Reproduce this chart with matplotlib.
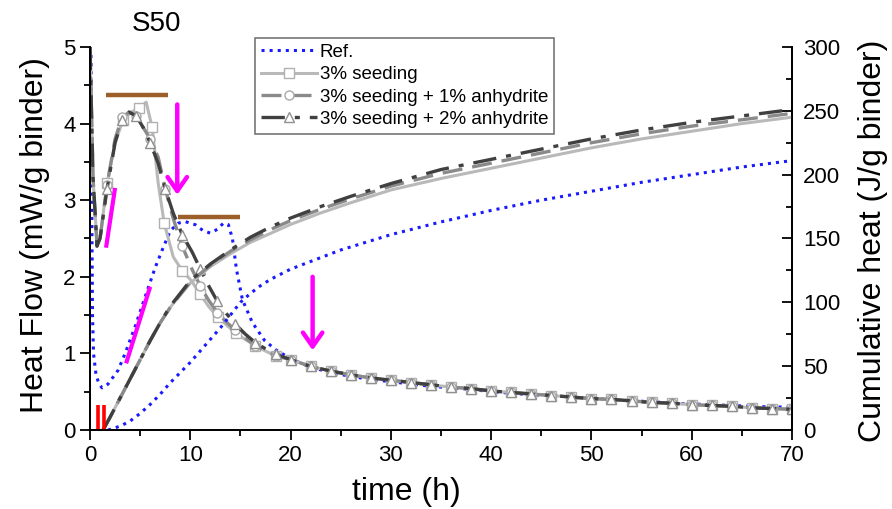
import matplotlib
matplotlib.use("Agg")
import matplotlib.pyplot as plt
import numpy as np

plt.rcParams['font.family'] = ['Liberation Sans', 'DejaVu Sans']

# heat flow (mW/g binder), early part per series, shared 2 h tail from 20 h
t_tail = [20, 22, 24, 26, 28, 30, 32, 34, 36, 38, 40, 42, 44, 46, 48, 50,
          52, 54, 56, 58, 60, 62, 64, 66, 68, 70]
hf_tail_gray = [0.92, 0.83, 0.77, 0.72, 0.68, 0.65, 0.62, 0.59, 0.56, 0.54, 0.51,
                0.49, 0.47, 0.45, 0.43, 0.41, 0.40, 0.38, 0.36, 0.35, 0.33, 0.32,
                0.31, 0.29, 0.28, 0.27]
hf_tail_ref = [0.93, 0.82, 0.75, 0.70, 0.66, 0.63, 0.60, 0.57, 0.55, 0.53, 0.50,
               0.48, 0.46, 0.45, 0.43, 0.41, 0.40, 0.38, 0.37, 0.35, 0.34, 0.33,
               0.32, 0.31, 0.30, 0.30]

t_ref = [0, 0.1, 0.2, 0.25, 0.35, 0.6, 0.9, 1.2, 1.8, 2.8, 3.5, 4.5, 5.5, 6.5, 7.2,
         8.0, 8.8, 9.5, 10.5, 11.3, 12.0, 12.7, 13.3, 13.8, 14.2, 14.6, 15.2, 16.2,
         17.4, 18.5]
hf_ref = [5.0, 4.9, 2.5, 1.5, 1.0, 0.72, 0.6, 0.55, 0.6, 0.78, 1.0, 1.35, 1.74,
          2.12, 2.35, 2.6, 2.7, 2.72, 2.68, 2.6, 2.57, 2.62, 2.7, 2.68, 2.5, 2.1,
          1.7, 1.40, 1.17, 1.05]

t_s3 = [0, 0.3, 0.7, 1.0, 1.7, 2.5, 3.3, 4.1, 4.9, 5.6, 6.2, 6.8, 7.4, 8.3, 9.2,
        10.1, 11.0, 11.9, 12.8, 13.7, 14.6, 15.5, 16.5, 17.5, 18.5]
hf_s3 = [5.0, 3.3, 2.42, 2.5, 3.22, 3.75, 4.05, 4.15, 4.2, 4.28, 3.95, 3.22, 2.7,
         2.26, 2.08, 1.95, 1.77, 1.6, 1.47, 1.36, 1.26, 1.18, 1.1, 1.03, 0.97]

t_anh = [0, 0.3, 0.7, 1.0, 1.7, 2.5, 3.2, 3.9, 4.6, 5.3, 6.0, 6.8, 7.5, 8.3, 9.2,
         10.2, 11.0, 11.8, 12.7, 13.6, 14.5, 15.5, 16.5, 17.5, 18.5]
hf_a1 = [5.0, 3.3, 2.4, 2.5, 3.2, 3.8, 4.08, 4.15, 4.1, 3.95, 3.8, 3.56, 3.15,
         2.76, 2.4, 2.09, 1.88, 1.7, 1.53, 1.41, 1.3, 1.2, 1.1, 1.03, 0.97]
hf_a2 = [5.0, 3.3, 2.4, 2.5, 3.15, 3.75, 4.05, 4.15, 4.1, 3.95, 3.75, 3.48, 3.15,
         2.83, 2.55, 2.32, 2.1, 1.89, 1.68, 1.52, 1.38, 1.25, 1.14, 1.06, 0.99]

# cumulative heat (J/g binder)
t_cum_ref = [1.8, 3, 4, 5, 6, 7, 8, 9, 10, 11, 12, 13, 14, 15, 16, 17, 18, 20, 22,
             25, 30, 35, 40, 45, 50, 55, 60, 65, 70]
cum_ref = [0, 3, 7, 13, 20, 28, 37, 45, 53, 62, 71, 80, 90, 100, 107, 113, 118,
           126, 132, 141, 153, 163, 172, 180, 187, 194, 200, 206, 211]
t_cum = [1.3, 2, 3, 4, 5, 6, 7, 8, 9, 10, 12, 14, 16, 18, 20, 23, 26, 30, 35, 40,
         45, 50, 55, 60, 65, 70]
cum_s3 = [0, 10, 25, 40, 55, 70, 84, 96, 106, 115, 128, 138, 147, 154, 161, 170,
          178, 188, 197, 205, 213, 221, 228, 234, 240, 245]
cum_a1 = [0, 10, 25, 40, 55, 70, 84, 96, 106, 116, 129, 140, 149, 157, 164, 173,
          181, 191, 201, 209, 217, 225, 232, 238, 243, 248]
cum_a2 = [0, 10, 25, 40, 55, 70, 84, 97, 107, 117, 130, 141, 151, 159, 166, 175,
          183, 193, 204, 212, 220, 228, 235, 241, 246, 251]

labels = ["Ref.", "3% seeding", "3% seeding + 1% anhydrite", "3% seeding + 2% anhydrite"]

# annotation marks drawn on the original figure
brown_bars = [([1.6, 7.8], [4.37, 4.37]), ([8.8, 15.0], [2.78, 2.78])]
pink_slopes = [([1.6, 2.5], [2.38, 3.16]), ([3.6, 6.0], [0.87, 1.87])]
pink_arrows = [(8.7, 4.25, 3.07), (22.2, 2.0, 1.04)]
red_bars = [0.75, 1.35]

c_ref, c_s3, c_a1, c_a2 = "#1a1aff", "#b9b9b9", "#8a8a8a", "#404040"

fig = plt.figure(figsize=(8.92, 5.09), dpi=100)
ax = fig.add_axes([0.1009, 0.1552, 0.787, 0.7525])
ax2 = ax.twinx()

n_early = len(t_s3)
marks = list(range(4, n_early, 2)) + list(range(n_early, n_early + len(t_tail)))
mk = dict(ms=6.5, mfc="white", markevery=marks)
h_ref, = ax.plot(t_ref + t_tail, hf_ref + hf_tail_ref, ":", color=c_ref, lw=2.2)
h_s3, = ax.plot(t_s3 + t_tail, hf_s3 + hf_tail_gray, "-", color=c_s3, lw=2.2,
                marker="s", mec="#b0b0b0", **mk)
h_a1, = ax.plot(t_anh + t_tail, hf_a1 + hf_tail_gray, color=c_a1, lw=2.4,
                dashes=(6, 3), marker="o", mec="#a8a8a8", **mk)
h_a2, = ax.plot(t_anh + t_tail, hf_a2 + hf_tail_gray, color=c_a2, lw=2.4,
                dashes=(7, 3, 1.5, 3), marker="^", mec="#909090", **mk)

ax2.plot(t_cum_ref, cum_ref, ":", color=c_ref, lw=2.2)
ax2.plot(t_cum, cum_s3, "-", color=c_s3, lw=2.2)
ax2.plot(t_cum, cum_a1, color=c_a1, lw=2.4, dashes=(6, 3))
ax2.plot(t_cum, cum_a2, color=c_a2, lw=2.4, dashes=(7, 3, 1.5, 3))

for xs, ys in brown_bars:
    ax2.plot(xs, np.array(ys) * 60, color="#9c5f2a", lw=3.2, solid_capstyle="butt")
for xs, ys in pink_slopes:
    ax2.plot(xs, np.array(ys) * 60, color="#ff00ff", lw=3.0, solid_capstyle="butt")
for x, y0, y1 in pink_arrows:
    ax2.annotate("", xy=(x, y1 * 60), xytext=(x, y0 * 60),
                 arrowprops=dict(arrowstyle="->,head_length=0.5,head_width=0.35",
                                 color="#ff00ff", lw=3.2, mutation_scale=20,
                                 shrinkA=0, shrinkB=0))
for x in red_bars:
    ax2.plot([x, x], [0, 0.33 * 60], color="#ff0000", lw=2.6, solid_capstyle="butt")

ax.set_xlim(0, 70)
ax.set_ylim(0, 5)
ax2.set_ylim(0, 300)
ax.set_xticks(np.arange(0, 71, 10))
ax.set_xticks(np.arange(0, 71, 5), minor=True)
ax.set_yticks(np.arange(0, 5.1, 1))
ax.set_yticks(np.arange(0, 5.1, 0.5), minor=True)
ax2.set_yticks(np.arange(0, 301, 50))
ax2.set_yticks(np.arange(0, 301, 25), minor=True)

for a in (ax, ax2):
    a.spines["top"].set_visible(False)
    for s in a.spines.values():
        s.set_linewidth(1.3)
ax.tick_params(which="major", direction="out", length=7, width=1.3, labelsize=16)
ax.tick_params(which="minor", direction="out", length=4, width=1.3)
ax2.tick_params(which="major", direction="in", length=7, width=1.3, labelsize=16, pad=8)
ax2.tick_params(which="minor", direction="in", length=4, width=1.3)

fig.text(0.039, 0.538, "Heat Flow (mW/g binder)", rotation=90, fontsize=23,
         ha="center", va="center")
fig.text(0.979, 0.527, "Cumulative heat (J/g binder)", rotation=90, fontsize=23,
         ha="center", va="center")
fig.text(0.456, 0.033, "time (h)", fontsize=23, ha="center", va="center")
fig.text(0.176, 0.953, "S50", ha="center", va="center", fontsize=20)

leg = fig.legend([h_ref, h_s3, h_a1, h_a2], labels, loc="upper left",
                 bbox_to_anchor=(0.286, 0.925), fontsize=13.5, frameon=True,
                 fancybox=False, edgecolor="#555555", handlelength=3,
                 handletextpad=0.15, labelspacing=0.28, borderpad=0.3,
                 borderaxespad=0)
leg.get_frame().set_linewidth(1.2)

fig.savefig("out.png", dpi=100)
